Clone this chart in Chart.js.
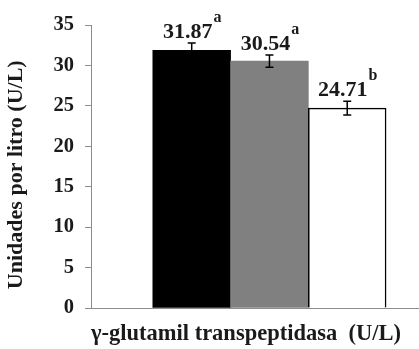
<!DOCTYPE html>
<html>
<head>
<meta charset="utf-8">
<script src="https://cdn.jsdelivr.net/npm/chart.js@4.4.1/dist/chart.umd.min.js"></script>
<style>
  html, body { margin: 0; padding: 0; background: #ffffff; }
  canvas { display: block; }
</style>
</head>
<body>
<canvas id="chart" width="419" height="349"></canvas>
<script>
// Group positions on the x scale, means, error half-widths and significance letters
const groups = [1, 2, 3];
const means = [31.87, 30.54, 24.71];
const errors = [0.9, 0.75, 0.85];
const letters = ['a', 'a', 'b'];
const yTicks = [0, 5, 10, 15, 20, 25, 30, 35];

const barFills = ['#000000', '#808080', '#ffffff'];
const barBorders = [0, 0, 1.5];
const axisGrey = '#8c8c8c';
const inkColor = '#1a1a1a';
const serif = "'Liberation Serif', 'Times New Roman', serif";

// Error bars plus "value^letter" labels above each bar
const meanLabels = {
  id: 'meanLabels',
  afterDatasetsDraw(chart) {
    const { ctx, scales: { y } } = chart;
    const bars = chart.getDatasetMeta(0).data;
    ctx.save();
    bars.forEach((bar, i) => {
      const x = bar.x;
      const top = y.getPixelForValue(means[i] + errors[i]);
      const bottom = y.getPixelForValue(means[i] - errors[i]);
      ctx.strokeStyle = '#000000';
      ctx.lineWidth = 1.5;
      ctx.beginPath();
      ctx.moveTo(x, top); ctx.lineTo(x, bottom);
      ctx.moveTo(x - 4, top); ctx.lineTo(x + 4, top);
      ctx.moveTo(x - 4, bottom); ctx.lineTo(x + 4, bottom);
      ctx.stroke();

      const main = means[i].toFixed(2);
      ctx.font = `bold 22px ${serif}`;
      const wMain = ctx.measureText(main).width;
      ctx.font = `bold 16px ${serif}`;
      const wSup = ctx.measureText(letters[i]).width;
      const start = x - (wMain + wSup) / 2;
      const base = top - 5;
      ctx.fillStyle = inkColor;
      ctx.textAlign = 'left';
      ctx.textBaseline = 'alphabetic';
      ctx.font = `bold 22px ${serif}`;
      ctx.fillText(main, start, base);
      ctx.font = `bold 16px ${serif}`;
      ctx.fillText(letters[i], start + wMain + 1, base - 16);
    });
    ctx.restore();
  }
};

new Chart(document.getElementById('chart'), {
  type: 'bar',
  data: {
    datasets: [{
      data: groups.map((g, i) => ({ x: g, y: means[i] })),
      backgroundColor: barFills,
      borderColor: '#000000',
      borderWidth: barBorders,
      barPercentage: 1,
      categoryPercentage: 1
    }]
  },
  options: {
    responsive: false,
    animation: false,
    layout: { padding: { top: 25, left: 0, right: 0, bottom: 0 } },
    plugins: { legend: { display: false }, tooltip: { enabled: false } },
    scales: {
      x: {
        type: 'linear',
        offset: false,
        min: -0.295,
        max: 3.923,
        afterFit(scale) { scale.height = 41; },
        ticks: { display: false, stepSize: 1, includeBounds: false },
        grid: { display: false },
        border: { display: true, color: axisGrey, width: 1 },
        title: {
          display: true,
          text: 'γ-glutamil transpeptidasa  (U/L)',
          align: 'start',
          color: inkColor,
          font: { family: serif, size: 22.5, weight: 'bold' },
          padding: { top: 0, bottom: 1 }
        }
      },
      y: {
        min: 0,
        max: 35,
        afterFit(scale) { scale.width = 91; },
        afterBuildTicks(scale) { scale.ticks = yTicks.map(v => ({ value: v })); },
        ticks: {
          color: inkColor,
          padding: 11,
          font: { family: serif, size: 20.5, weight: 'bold' }
        },
        grid: { display: true, drawOnChartArea: false, drawTicks: true, tickLength: 6, color: axisGrey },
        border: { display: true, color: axisGrey, width: 1 },
        title: {
          display: true,
          text: 'Unidades por litro (U/L)   ',
          color: inkColor,
          font: { family: serif, size: 22, weight: 'bold' },
          padding: { top: 3, bottom: 0 }
        }
      }
    }
  },
  plugins: [meanLabels]
});
</script>
</body>
</html>
